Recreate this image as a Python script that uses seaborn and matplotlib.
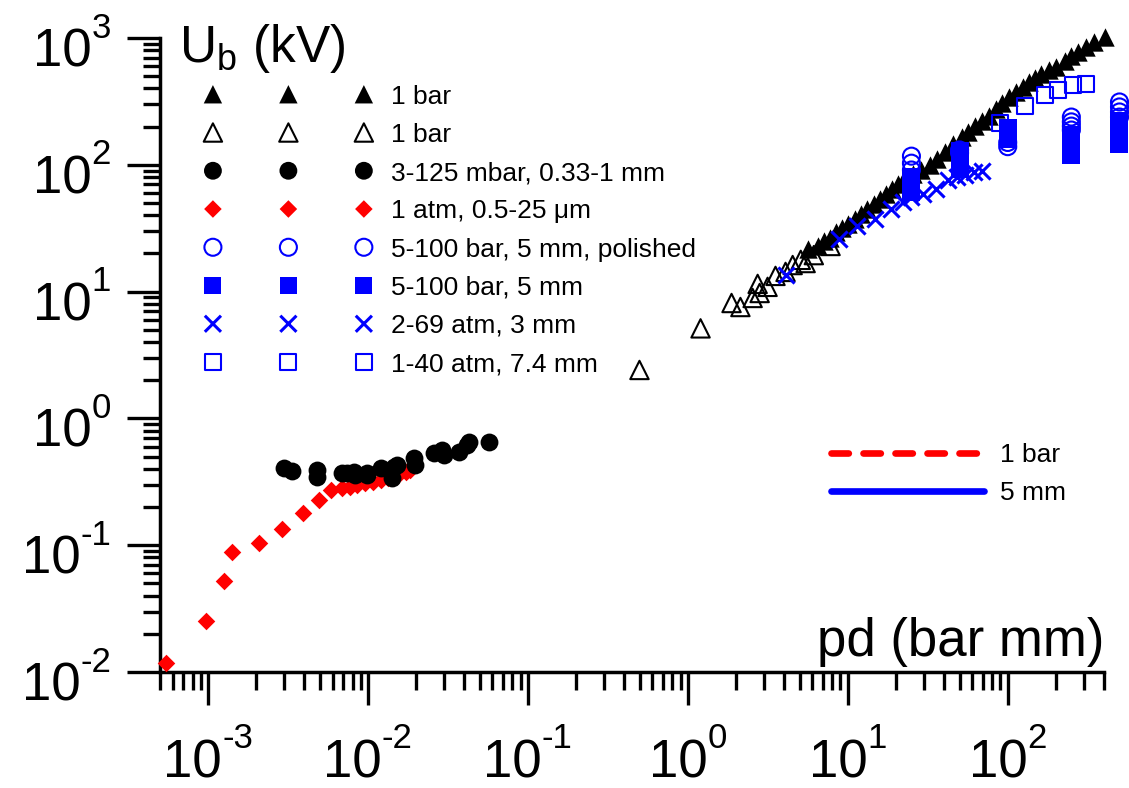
import numpy as np
import pandas as pd
import matplotlib
matplotlib.use("Agg")
import matplotlib.pyplot as plt
from matplotlib.lines import Line2D
from matplotlib.ticker import LogLocator, NullFormatter
import seaborn as sns

# ---- breakdown voltage data: pd (bar mm) vs U_b (kV) ----
tri_fill_x = [5.6, 6.5, 7.1, 7.7, 8.4, 9.2, 10.0, 11.1, 12.1, 13.2, 14.5, 16.0, 17.4, 19.0,
              20.7, 22.5, 25.5, 28.8, 32.5, 36.2, 40.4, 45.5, 51.5, 56.5, 62.5, 69.0, 76.0,
              84.0, 92.4, 102, 112, 124, 136, 148, 162, 181, 201, 227, 250, 276, 310, 344, 407]
tri_fill_y = [21.5, 22.9, 25.0, 26.7, 29.5, 31.5, 34.0, 37.3, 41.0, 44.9, 49.5, 53.9, 59.0, 64.8,
              71.0, 77.8, 84.0, 90.8, 99.5, 112, 127, 146, 167, 183, 201, 220, 242,
              275, 309, 340, 372, 410, 447, 482, 520, 555, 589, 664, 715, 774, 850, 931, 1021]

tri_open_x = [0.498, 1.2, 1.875, 2.13, 2.54, 2.73, 2.81, 3.15, 3.53, 4.08, 4.52, 5.08, 5.45, 6.13, 7.8]
tri_open_y = [2.41, 5.13, 8.13, 7.56, 8.91, 11.5, 9.75, 10.9, 13.3, 14.3, 16.2, 17.8, 16.8, 19.4, 22.9]

circ_x = [2.96e-3, 3.34e-3, 4.79e-3, 4.79e-3, 6.87e-3, 7.38e-3, 8.2e-3, 8.3e-3, 9.9e-3, 9.9e-3,
          1.2e-2, 1.41e-2, 1.45e-2, 1.52e-2, 1.93e-2, 1.97e-2, 2.57e-2, 2.9e-2, 2.97e-2,
          3.68e-2, 4.16e-2, 4.26e-2, 5.68e-2]
circ_y = [0.404, 0.387, 0.392, 0.343, 0.369, 0.373, 0.380, 0.358, 0.373, 0.358,
          0.404, 0.337, 0.416, 0.429, 0.484, 0.429, 0.531, 0.564, 0.514,
          0.546, 0.617, 0.655, 0.655]

dia_x = [5.46e-4, 9.7e-4, 1.25e-3, 1.41e-3, 2.08e-3, 2.89e-3, 3.91e-3, 4.9e-3, 5.89e-3, 6.87e-3,
         7.66e-3, 8.52e-3, 9.6e-3, 1.07e-2, 1.2e-2, 1.34e-2, 1.52e-2, 1.73e-2, 1.84e-2]
dia_y = [0.0117, 0.0254, 0.0525, 0.0879, 0.105, 0.133, 0.178, 0.227, 0.272, 0.281,
         0.289, 0.298, 0.308, 0.317, 0.327, 0.337, 0.351, 0.380, 0.392]

ocirc_x = [25, 25, 25, 50, 50, 100, 100, 250, 250, 250, 250, 500, 500, 500, 500]
ocirc_y = [117, 103, 91, 131, 124, 150, 139, 238, 218, 202, 188, 313, 286, 261, 238]

fsq_x = [25, 25, 25, 25, 50, 50, 50, 50, 50, 100, 100, 100, 100,
         250, 250, 250, 250, 250, 500, 500, 500, 500, 500]
fsq_y = [80, 72, 66, 61, 128, 118, 108, 100, 92, 195, 181, 169, 160,
         172, 157, 143, 131, 119, 221, 199, 178, 160, 146]

cross_x = [4.12, 8.75, 11.4, 14.9, 18.5, 22.0, 24.9, 29.5, 35.8, 42.5, 47.9, 54.1, 61.1, 69.0]
cross_y = [13.6, 25.8, 33.0, 37.3, 44.9, 50.7, 55.6, 59.0, 64.8, 75.5, 80.3, 83.8, 88.0, 89.1]

osq_x = [89.3, 129, 172, 206, 256, 307]
osq_y = [214, 291, 356, 387, 427, 433]

labels = ["1 bar", "1 bar", "3-125 mbar, 0.33-1 mm", "1 atm, 0.5-25 \u03bcm",
          "5-100 bar, 5 mm, polished", "5-100 bar, 5 mm", "2-69 atm, 3 mm", "1-40 atm, 7.4 mm"]
line_labels = ["1 bar", "5 mm"]

xticks = [1e-3, 1e-2, 1e-1, 1e0, 1e1, 1e2]
yticks = [1e-2, 1e-1, 1e0, 1e1, 1e2, 1e3]

# ---- style ----
sns.set_theme(style="ticks")
plt.rcParams["font.family"] = ["Liberation Sans", "DejaVu Sans"]
plt.rcParams["mathtext.fontset"] = "custom"
plt.rcParams["mathtext.rm"] = "Liberation Sans"
plt.rcParams["mathtext.it"] = "Liberation Sans:italic"
plt.rcParams["mathtext.bf"] = "Liberation Sans:bold"
plt.rcParams["mathtext.default"] = "regular"
for key in ("text.color", "axes.labelcolor", "xtick.color", "ytick.color",
            "xtick.labelcolor", "ytick.labelcolor", "axes.edgecolor"):
    plt.rcParams[key] = "black"

W, H = 1129, 788
fig = plt.figure(figsize=(W / 100, H / 100), dpi=100)
fig.patch.set_facecolor("white")
ax = fig.add_axes([160 / W, 1 - 672 / H, (1104 - 160) / W, (672 - 38) / H])
ax.set_facecolor("white")
ax.set_xscale("log")
ax.set_yscale("log")
ax.set_xlim(5e-4, 400)
ax.set_ylim(1e-2, 1e3)

BLUE = "#0000ff"
RED = "#ff0000"


def scat(x, y, zorder, s, **kw):
    df = pd.DataFrame({"x": x, "y": y})
    sns.scatterplot(data=df, x="x", y="y", ax=ax, s=s, clip_on=False,
                    zorder=zorder, legend=False, **kw)
    return ax.collections[-1]


h_tf = scat(tri_fill_x, tri_fill_y, 3, 175, marker="^", color="black", edgecolor="black", linewidth=0)
h_to = scat(tri_open_x, tri_open_y, 2, 175, marker="^", facecolor="none", edgecolor="black", linewidth=1.5)
h_d = scat(dia_x, dia_y, 3, 80, marker="D", color=RED, edgecolor=RED, linewidth=0)
h_c = scat(circ_x, circ_y, 4, 165, marker="o", color="black", edgecolor="black", linewidth=0)
h_oc = scat(ocirc_x, ocirc_y, 5, 150, marker="o", facecolor="none", edgecolor=BLUE, linewidth=1.5)
h_fs = scat(fsq_x, fsq_y, 6, 150, marker="s", color=BLUE, edgecolor=BLUE, linewidth=0)
h_x = scat(cross_x, cross_y, 7, 135, marker="x", color=BLUE, linewidth=2.2)
h_os = scat(osq_x, osq_y, 8, 135, marker="s", facecolor="none", edgecolor=BLUE, linewidth=1.5)

ax.set_xlabel("")
ax.set_ylabel("")

# ---- axes ----
for side in ("top", "right"):
    ax.spines[side].set_visible(False)
for side in ("left", "bottom"):
    ax.spines[side].set_linewidth(2.5)
    ax.spines[side].set_color("black")

ax.set_xticks(xticks)
ax.set_yticks(yticks)
ax.xaxis.set_minor_locator(LogLocator(base=10, subs=np.arange(2, 10), numticks=200))
ax.yaxis.set_minor_locator(LogLocator(base=10, subs=np.arange(2, 10), numticks=200))
ax.xaxis.set_minor_formatter(NullFormatter())
ax.yaxis.set_minor_formatter(NullFormatter())
ax.tick_params(which="major", direction="out", length=24, width=2.4, color="black",
               labelleft=False, labelbottom=False)
ax.tick_params(which="minor", direction="out", length=12.6, width=2.4, color="black")

# ---- decade tick labels: "10" with a raised exponent ----
BASE_FS, EXP_FS = 38, 25
EXP_RISE = 29          # px between base and exponent baselines
renderer = fig.canvas.get_renderer()


def decade_label(e):
    base = fig.text(0, 0, "10", fontsize=BASE_FS, ha="left", va="baseline")
    sup = fig.text(0, 0, str(e), fontsize=EXP_FS, ha="left", va="baseline")
    wb = base.get_window_extent(renderer).width
    ws = sup.get_window_extent(renderer).width
    return base, sup, wb, ws


def place(base, sup, wb, x0, y0):
    base.set_position((x0 / W, y0 / H))
    sup.set_position(((x0 + wb) / W, (y0 + EXP_RISE) / H))


for v in yticks:
    e = int(round(np.log10(v)))
    _, yd = ax.transData.transform((1.0, v))
    base, sup, wb, ws = decade_label(e)
    place(base, sup, wb, 111 - ws - wb, yd - 28.5)

for v in xticks:
    e = int(round(np.log10(v)))
    xd, _ = ax.transData.transform((v, 1.0))
    base, sup, wb, ws = decade_label(e)
    place(base, sup, wb, xd - (wb + ws) / 2, H - 777)

# ---- axis titles inside the frame ----
fig.text(179 / W, 1 - 62 / H, r"$U_b$ (kV)", fontsize=37, ha="left", va="baseline")
fig.text(1104 / W, 1 - 656 / H, "pd (bar mm)", fontsize=38, ha="right", va="baseline")

# ---- legends ----
FS = 19
leg1 = ax.legend(handles=[h_tf, h_to, h_c, h_d, h_oc, h_fs, h_x, h_os], labels=labels,
                 loc="upper left", bbox_to_anchor=(205 / W, 1 - 84.5 / H),
                 bbox_transform=fig.transFigure, frameon=False, fontsize=FS,
                 scatterpoints=3, scatteryoffsets=[0.5], handlelength=6.32,
                 handletextpad=0.72, labelspacing=0.54, borderpad=0, borderaxespad=0)
ax.add_artist(leg1)

red_dash = Line2D([], [], color=RED, linewidth=4.8, linestyle=(0, (2.6, 2.2)),
                  dash_capstyle="round", solid_capstyle="round")
blue_solid = Line2D([], [], color=BLUE, linewidth=4.8, solid_capstyle="round")
leg2 = ax.legend(handles=[red_dash, blue_solid], labels=line_labels, loc="upper left",
                 bbox_to_anchor=(831 / W, 1 - 443 / H), bbox_transform=fig.transFigure,
                 frameon=False, fontsize=FS, numpoints=1, handlelength=5.8,
                 handletextpad=0.6, labelspacing=0.54, borderpad=0, borderaxespad=0)

fig.savefig("out.png", dpi=100, facecolor="white")
